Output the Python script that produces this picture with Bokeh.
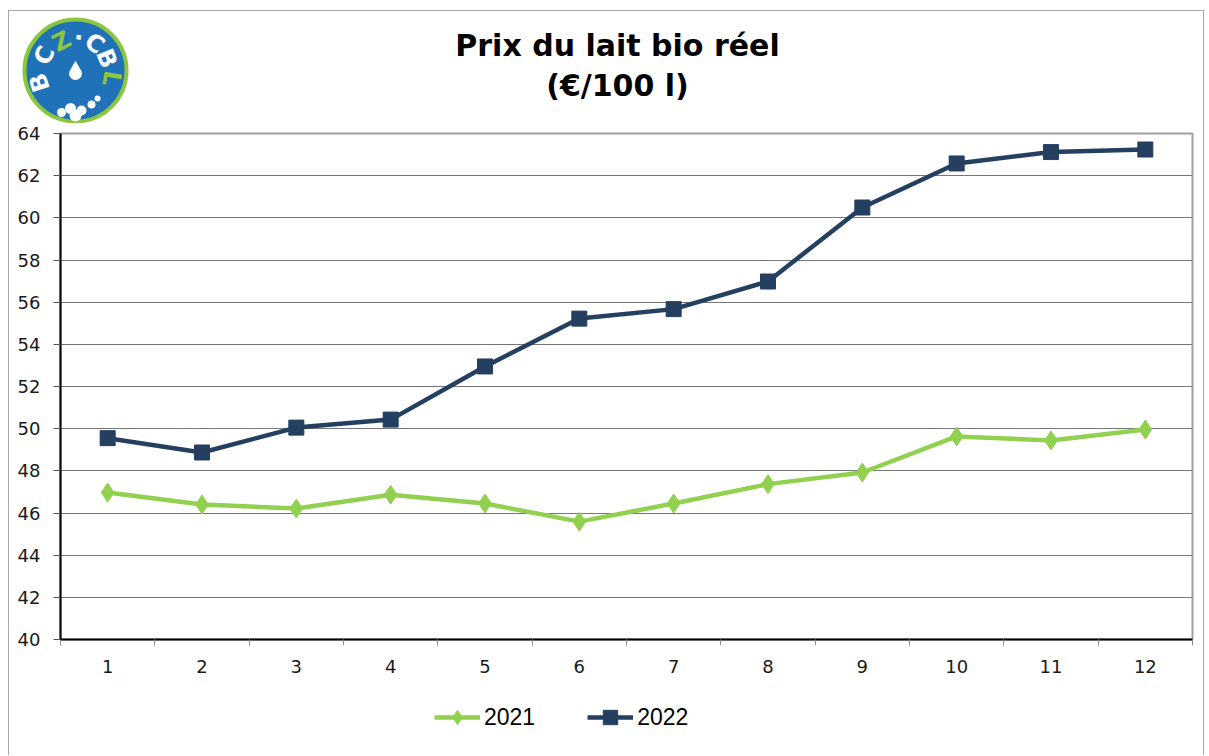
import math
from bokeh.plotting import figure
from bokeh.layouts import column
from bokeh.models import Range1d, FixedTicker, Legend, LegendItem
from bokeh.core.properties import value
from bokeh.embed import file_html
from bokeh.resources import INLINE

# ---- data ----
months = [1, 2, 3, 4, 5, 6, 7, 8, 9, 10, 11, 12]
month_labels = ["1", "2", "3", "4", "5", "6", "7", "8", "9", "10", "11", "12"]
prix_2021 = [46.97, 46.40, 46.21, 46.87, 46.45, 45.59, 46.45, 47.37, 47.92, 49.63, 49.44, 49.96]
prix_2022 = [49.55, 48.87, 50.05, 50.43, 52.95, 55.22, 55.67, 56.98, 60.49, 62.58, 63.12, 63.24]
series_names = ["2021", "2022"]
y_ticks = [40, 42, 44, 46, 48, 50, 52, 54, 56, 58, 60, 62, 64]
title_lines = ["Prix du lait bio réel", "(€/100 l)"]
logo_letters = ["B", "C", "Z", "·", "C", "B", "L"]

GREEN = "#92d050"
NAVY = "#243f60"
LOGO_BLUE = "#1f72b8"
LOGO_GREEN = "#8cc63f"

W = 1194
H_HEAD = 112
H_MAIN = 567
H_LEG = 65


def bare(fig):
    fig.outline_line_color = None
    fig.grid.visible = False
    fig.background_fill_color = "white"
    fig.border_fill_color = "white"
    fig.frame_align = False


# ---------- header (logo + title) ----------
h = figure(width=W, height=H_HEAD, output_backend="svg", toolbar_location=None,
           x_range=Range1d(0, W), y_range=Range1d(H_HEAD, 0),
           min_border=0, x_axis_type=None, y_axis_type=None)
bare(h)

h.text(x=[608, 608], y=[34, 74], text=title_lines, text_align="center",
       text_baseline="middle", text_font=value("DejaVu Sans"), text_font_style="bold",
       text_font_size="30px", text_color="black")

cx, cy = 66, 59
h.circle(x=[cx], y=[cy], radius=51, fill_color=LOGO_BLUE, line_color=LOGO_GREEN, line_width=4)
letter_pos = [(-36, 12, 108), (-31, -15, 65), (-14, -29, 27), (3, -33, -4),
              (19, -27, -36), (31, -12, -68), (36, 8, -100)]
letter_cols = ["white", "white", LOGO_GREEN, "white", "white", "white", LOGO_GREEN]
h.text(x=[cx + d[0] for d in letter_pos], y=[cy + d[1] for d in letter_pos],
       text=logo_letters, angle=[math.radians(d[2]) for d in letter_pos],
       text_align="center", text_baseline="middle", text_font=value("DejaVu Sans"),
       text_font_style="bold", text_font_size="24px", text_color=letter_cols)
h.scatter(x=[cx], y=[cy + 3], marker="circle", size=13, fill_color="white", line_color=None)
h.scatter(x=[cx], y=[cy - 4], marker="triangle", size=10, fill_color="white", line_color=None)
h.scatter(x=[cx - 14, cx - 5, cx + 6, cx + 16, cx + 22, cx],
          y=[cy + 42, cy + 38, cy + 40, cy + 34, cy + 28, cy + 45],
          marker="circle", size=[9, 11, 10, 8, 6, 12], fill_color="white", line_color=None)

# ---------- main chart ----------
p = figure(width=W, height=H_MAIN, output_backend="svg", toolbar_location=None,
           x_range=Range1d(0.5, 12.5), y_range=Range1d(40, 64),
           min_border_left=51, min_border_right=11, min_border_top=10,
           min_border_bottom=51)
p.background_fill_color = "white"
p.border_fill_color = "white"
p.outline_line_color = "#a0a0a0"
p.outline_line_width = 2
p.frame_align = False

p.xaxis.ticker = FixedTicker(ticks=months, minor_ticks=[m - 0.5 for m in months] + [12.5])
p.xaxis.major_label_overrides = {m: lab for m, lab in zip(months, month_labels)}
p.xaxis.major_tick_out = 0
p.xaxis.major_tick_in = 0
p.xaxis.minor_tick_out = 6
p.xaxis.minor_tick_in = 0
p.xaxis.minor_tick_line_color = "#8c8c8c"
p.xaxis.major_label_standoff = 14
p.xaxis.axis_line_color = "black"
p.xaxis.axis_line_width = 2

p.yaxis.ticker = FixedTicker(ticks=y_ticks)
p.yaxis.major_tick_out = 7
p.yaxis.major_tick_in = 0
p.yaxis.major_tick_line_color = "#555555"
p.yaxis.major_label_standoff = 13
p.yaxis.axis_line_color = "black"
p.yaxis.axis_line_width = 2

for ax in (p.xaxis, p.yaxis):
    ax.major_label_text_font = "DejaVu Sans"
    ax.major_label_text_font_size = "18px"
    ax.major_label_text_color = "#1a1a1a"

p.xgrid.visible = False
p.ygrid.ticker = FixedTicker(ticks=y_ticks)
p.ygrid.grid_line_color = "#767676"
p.ygrid.grid_line_width = 1

p.line(months, prix_2021, line_color=GREEN, line_width=4.5)
p.scatter(months, prix_2021, marker="diamond", size=19, fill_color=GREEN, line_color=GREEN)
p.line(months, prix_2022, line_color=NAVY, line_width=4.5)
p.scatter(months, prix_2022, marker="square", size=15, fill_color=NAVY, line_color=NAVY)

# ---------- legend strip (same series, drawn out of view; only the legend shows) ----------
lg = figure(width=W, height=H_LEG, output_backend="svg", toolbar_location=None,
            x_range=Range1d(-20, -10), y_range=Range1d(0, 1),
            min_border=0, x_axis_type=None, y_axis_type=None)
bare(lg)
l1 = lg.line(months, prix_2021, line_color=GREEN, line_width=4.5)
s1 = lg.scatter(months, prix_2021, marker="diamond", size=19, fill_color=GREEN, line_color=GREEN)
l2 = lg.line(months, prix_2022, line_color=NAVY, line_width=4.5)
s2 = lg.scatter(months, prix_2022, marker="square", size=15, fill_color=NAVY, line_color=NAVY)

legend = Legend(items=[LegendItem(label=series_names[0], renderers=[l1, s1]),
                       LegendItem(label=series_names[1], renderers=[l2, s2])],
                orientation="horizontal", location=(425, 20),
                glyph_width=46, glyph_height=36, label_standoff=4, spacing=52,
                padding=0, margin=0, border_line_color=None,
                background_fill_alpha=0, label_text_font="Liberation Sans",
                label_text_font_size="23px", label_text_color="black")
lg.add_layout(legend, "center")

layout = column(h, p, lg, spacing=0,
                styles={"border": "1px solid #a8a8a8", "border-bottom": "none",
                        "margin-left": "8px", "margin-top": "10px"})

open("out.html", "w").write(file_html(layout, INLINE))
